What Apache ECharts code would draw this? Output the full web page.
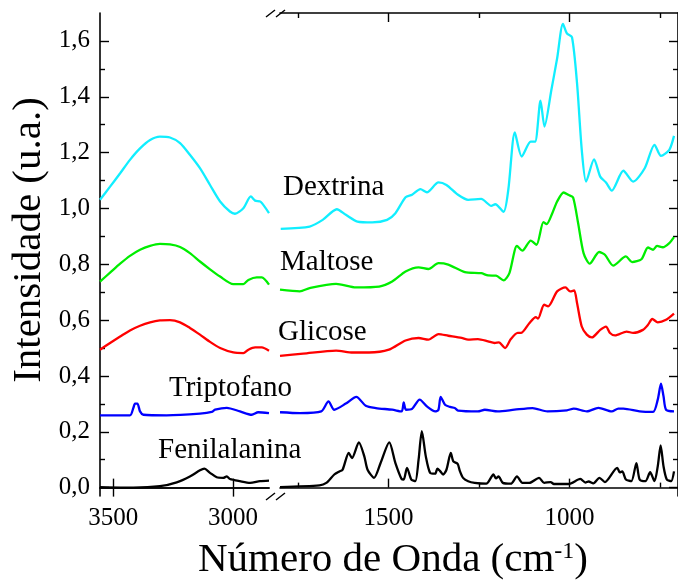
<!DOCTYPE html>
<html>
<head>
<meta charset="utf-8">
<script src="https://cdn.jsdelivr.net/npm/echarts@6/dist/echarts.min.js"></script>
<style>
  html, body { margin: 0; padding: 0; background: #fff; }
  #chart { width: 678px; height: 580px; }
</style>
</head>
<body>
<div id="chart"></div>
<script>
// spectra, [wavenumber cm-1, intensity], left panel (3555-2850) and right panel (1800-700)
const dextrinaL = [[3555,1.031],[3513,1.078],[3471,1.126],[3430,1.174],[3388,1.215],[3346,1.245],[3305,1.257],[3263,1.254],[3221,1.234],[3180,1.192],[3138,1.144],[3096,1.084],[3054,1.025],[3013,0.989],[2992,0.981],[2957,1.001],[2926,1.043],[2908,1.028],[2885,1.024],[2850,0.983]];
const maltoseL = [[3555,0.738],[3513,0.770],[3471,0.802],[3430,0.830],[3388,0.852],[3346,0.866],[3305,0.873],[3263,0.871],[3221,0.862],[3180,0.840],[3138,0.810],[3096,0.782],[3054,0.756],[2999,0.729],[2957,0.729],[2936,0.744],[2901,0.753],[2880,0.753],[2850,0.727]];
const glicoseL = [[3555,0.494],[3513,0.518],[3471,0.541],[3430,0.563],[3388,0.580],[3346,0.592],[3305,0.599],[3263,0.600],[3221,0.592],[3180,0.572],[3138,0.548],[3096,0.522],[3054,0.500],[2999,0.484],[2957,0.482],[2936,0.494],[2908,0.502],[2880,0.502],[2850,0.490]];
const triptofanoL = [[3555,0.259],[3430,0.259],[3416,0.285],[3409,0.301],[3399,0.301],[3388,0.273],[3374,0.261],[3277,0.259],[3138,0.265],[3089,0.271],[3075,0.279],[3026,0.286],[2971,0.273],[2922,0.261],[2895,0.270],[2850,0.267]];
const fenilalaninaL = [[3555,0.002],[3416,0.000],[3305,0.005],[3235,0.019],[3180,0.040],[3138,0.062],[3120,0.068],[3096,0.053],[3068,0.037],[3041,0.035],[3026,0.040],[3013,0.031],[2971,0.023],[2929,0.017],[2888,0.023],[2850,0.025]];

const dextrinaR = [[1798,0.927],[1718,0.935],[1682,0.959],[1643,0.997],[1618,0.977],[1586,0.953],[1545,0.950],[1504,0.959],[1481,0.983],[1453,1.040],[1435,1.049],[1412,1.069],[1394,1.058],[1362,1.093],[1340,1.084],[1308,1.049],[1280,1.031],[1244,1.034],[1216,1.009],[1205,1.015],[1182,0.988],[1169,1.067],[1151,1.272],[1132,1.186],[1107,1.239],[1095,1.239],[1080,1.386],[1069,1.293],[1050,1.424],[1034,1.538],[1018,1.661],[1007,1.627],[993,1.613],[979,1.448],[966,1.210],[954,1.096],[932,1.176],[915,1.114],[899,1.093],[883,1.064],[851,1.135],[824,1.096],[792,1.144],[765,1.228],[747,1.188],[724,1.210],[711,1.260]];
const maltoseR = [[1800,0.709],[1745,0.703],[1718,0.715],[1645,0.730],[1590,0.717],[1526,0.720],[1490,0.738],[1453,0.774],[1417,0.789],[1390,0.783],[1362,0.804],[1335,0.799],[1289,0.772],[1244,0.768],[1225,0.760],[1203,0.759],[1182,0.742],[1166,0.768],[1145,0.866],[1130,0.849],[1107,0.885],[1091,0.870],[1072,0.951],[1063,0.944],[1048,0.981],[1034,1.025],[1016,1.057],[1002,1.048],[990,1.040],[976,0.947],[961,0.840],[944,0.802],[918,0.844],[902,0.834],[879,0.795],[844,0.828],[827,0.808],[801,0.818],[783,0.860],[769,0.852],[758,0.866],[742,0.861],[724,0.876],[711,0.897]];
const glicoseR = [[1800,0.472],[1736,0.480],[1645,0.491],[1599,0.484],[1554,0.484],[1499,0.494],[1453,0.527],[1417,0.536],[1390,0.530],[1362,0.550],[1335,0.544],[1298,0.536],[1280,0.530],[1253,0.532],[1225,0.524],[1207,0.518],[1195,0.520],[1178,0.500],[1162,0.532],[1143,0.554],[1134,0.554],[1111,0.589],[1093,0.611],[1087,0.605],[1070,0.655],[1059,0.649],[1034,0.703],[1011,0.717],[998,0.703],[987,0.706],[979,0.661],[966,0.577],[952,0.548],[938,0.538],[915,0.565],[899,0.577],[888,0.554],[874,0.545],[842,0.559],[824,0.554],[797,0.565],[783,0.583],[771,0.604],[756,0.592],[733,0.601],[711,0.623]];
const triptofanoR = [[1800,0.270],[1745,0.267],[1686,0.273],[1666,0.309],[1650,0.279],[1618,0.301],[1589,0.325],[1563,0.293],[1535,0.285],[1490,0.279],[1464,0.273],[1458,0.305],[1452,0.279],[1435,0.282],[1414,0.315],[1394,0.291],[1371,0.273],[1362,0.279],[1356,0.325],[1344,0.297],[1330,0.289],[1317,0.285],[1308,0.276],[1253,0.273],[1234,0.279],[1198,0.273],[1152,0.279],[1102,0.285],[1061,0.273],[1007,0.277],[988,0.283],[952,0.273],[920,0.286],[883,0.273],[865,0.283],[851,0.283],[806,0.273],[769,0.271],[756,0.315],[747,0.372],[740,0.327],[733,0.279],[711,0.273]];
const fenilalaninaR = [[1800,0.002],[1691,0.008],[1672,0.017],[1650,0.047],[1636,0.058],[1627,0.064],[1610,0.124],[1601,0.106],[1582,0.162],[1567,0.112],[1558,0.064],[1540,0.035],[1522,0.088],[1498,0.162],[1481,0.088],[1464,0.031],[1458,0.029],[1449,0.071],[1437,0.029],[1426,0.023],[1417,0.100],[1408,0.202],[1397,0.112],[1385,0.053],[1371,0.050],[1365,0.068],[1358,0.060],[1349,0.047],[1340,0.064],[1328,0.124],[1321,0.094],[1309,0.085],[1303,0.060],[1294,0.035],[1280,0.023],[1262,0.017],[1230,0.014],[1210,0.047],[1203,0.033],[1196,0.040],[1184,0.017],[1162,0.014],[1145,0.040],[1130,0.017],[1111,0.017],[1084,0.035],[1070,0.017],[1052,0.020],[1043,0.013],[1002,0.013],[970,0.031],[956,0.018],[947,0.022],[934,0.015],[917,0.035],[902,0.020],[868,0.071],[861,0.055],[854,0.058],[844,0.029],[829,0.023],[815,0.088],[806,0.029],[790,0.023],[777,0.055],[765,0.023],[756,0.076],[748,0.151],[740,0.076],[731,0.029],[719,0.023],[711,0.058]];

// tick values
const yMajor = [0, 0.2, 0.4, 0.6, 0.8, 1.0, 1.2, 1.4, 1.6];
const yMinor = [0.1, 0.3, 0.5, 0.7, 0.9, 1.1, 1.3, 1.5];
const xTicksLeft = [3500, 3000];
const xTicksRight = [1500, 1000];
const xMinorRight = [1750, 1250, 750];

const FONT = 'Liberation Serif';
const chart = echarts.init(document.getElementById('chart'));

function yAx(grid, pos, ticks, len, showLine, labels) {
  return {
    type: 'value', gridIndex: grid, position: pos, min: -0.03, max: 1.7,
    axisLine: { show: showLine, lineStyle: { color: '#000', width: 1.6 } },
    axisTick: { show: true, inside: true, length: len, customValues: ticks, lineStyle: { color: '#000', width: 1.4 } },
    axisLabel: labels ? {
      show: true, customValues: ticks, margin: 10, color: '#000', fontFamily: FONT, fontSize: 25,
      formatter: v => v.toFixed(1).replace('.', ',')
    } : { show: false },
    splitLine: { show: false }
  };
}

function xAx(grid, pos, min, max, ticks, len, showLine, labels) {
  return {
    type: 'value', gridIndex: grid, position: pos, min: min, max: max, inverse: true,
    axisLine: { show: showLine, lineStyle: { color: '#000', width: 1.6 } },
    axisTick: { show: true, inside: true, length: len, customValues: ticks, lineStyle: { color: '#000', width: 1.4 } },
    axisLabel: labels ? {
      show: true, customValues: ticks, margin: 10, color: '#000', fontFamily: FONT, fontSize: 25,
      formatter: v => String(Math.round(v))
    } : { show: false },
    splitLine: { show: false }
  };
}

function line(data, color, xi, yi) {
  return {
    type: 'line', data: data, xAxisIndex: xi, yAxisIndex: yi,
    showSymbol: false, smooth: 0.25, silent: true,
    lineStyle: { color: color, width: 2.3 }, itemStyle: { color: color }
  };
}

function label(text, x, y) {
  return {
    type: 'text', x: x, y: y,
    style: { text: text, fill: '#000', fontFamily: FONT, fontSize: 29, textAlign: 'left', textVerticalAlign: 'middle' }
  };
}

function slash(x1, y1, x2, y2) {
  return { type: 'line', shape: { x1: x1, y1: y1, x2: x2, y2: y2 }, style: { stroke: '#000', lineWidth: 1.4 } };
}

const CYAN = '#11eeff', GREEN = '#00ee00', RED = '#ff0000', BLUE = '#0000ff', BLACK = '#000000';

chart.setOption({
  animation: false,
  grid: [
    { left: 100, top: 13, width: 169, height: 483 },
    { left: 280, top: 13, width: 402, height: 483 }
  ],
  xAxis: [
    xAx(0, 'bottom', 2850, 3555, xTicksLeft, 9, true, true),
    xAx(0, 'top', 2850, 3555, xTicksLeft, 9, true, false),
    xAx(1, 'bottom', 700, 1800, xTicksRight, 9, true, true),
    xAx(1, 'bottom', 700, 1800, xMinorRight, 5, false, false),
    xAx(1, 'top', 700, 1800, xTicksRight, 9, true, false),
    xAx(1, 'top', 700, 1800, xMinorRight, 5, false, false)
  ],
  yAxis: [
    yAx(0, 'left', yMajor, 9, true, true),
    yAx(0, 'left', yMinor, 5, false, false),
    yAx(1, 'right', yMajor, 9, true, false),
    yAx(1, 'right', yMinor, 5, false, false)
  ],
  series: [
    line(dextrinaL, CYAN, 0, 0),
    line(maltoseL, GREEN, 0, 0),
    line(glicoseL, RED, 0, 0),
    line(triptofanoL, BLUE, 0, 0),
    line(fenilalaninaL, BLACK, 0, 0),
    line(dextrinaR, CYAN, 2, 2),
    line(maltoseR, GREEN, 2, 2),
    line(glicoseR, RED, 2, 2),
    line(triptofanoR, BLUE, 2, 2),
    line(fenilalaninaR, BLACK, 2, 2)
  ],
  graphic: [
    label('Dextrina', 283, 187),
    label('Maltose', 280, 262),
    label('Glicose', 278, 332),
    label('Triptofano', 169, 388),
    label('Fenilalanina', 158, 450),
    // axis break marks
    slash(266, 17, 275, 10), slash(276, 17, 285, 10),
    slash(266, 500, 275, 493), slash(276, 500, 285, 493),
    {
      type: 'text', x: 29, y: 240, rotation: Math.PI / 2,
      style: { text: 'Intensidade (u.a.)', fill: '#000', fontFamily: FONT, fontSize: 41, textAlign: 'center', textVerticalAlign: 'middle' }
    },
    {
      type: 'text', x: 393, y: 560,
      style: {
        text: 'Número de Onda (cm{sup|-1})', fill: '#000', fontFamily: FONT, fontSize: 41,
        textAlign: 'center', textVerticalAlign: 'middle',
        rich: { sup: { fontSize: 24, fontFamily: FONT, fill: '#000', verticalAlign: 'top' } }
      }
    }
  ]
});
</script>
</body>
</html>
